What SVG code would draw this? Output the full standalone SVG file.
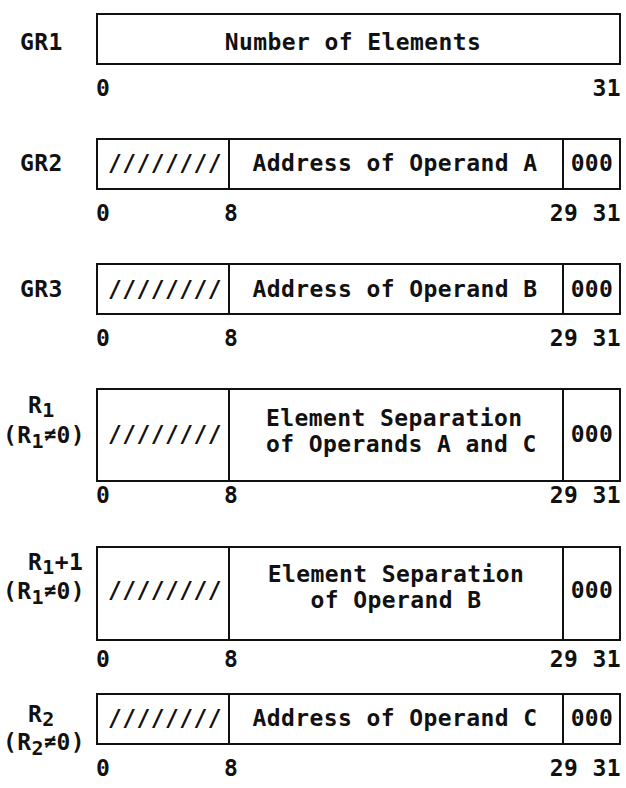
<svg xmlns="http://www.w3.org/2000/svg" width="626" height="788" viewBox="0 0 626 788">
<style>
.b{fill:none;stroke:#111;stroke-width:2}
.t{font-family:"DejaVu Sans Mono","Liberation Mono",monospace;font-size:23px;font-weight:bold;fill:#111;letter-spacing:0.4px}
.m{text-anchor:middle}
.e{text-anchor:end}
.s{font-size:20px}
</style>
<rect width="626" height="788" fill="#fff"/>
<g id="gr1">
<text class="t" x="20" y="50">GR1</text>
<rect class="b" x="97" y="14" width="523" height="50"/>
<text class="t m" x="353" y="50">Number of Elements</text>
<text class="t" x="96" y="96">0</text>
<text class="t e" x="621" y="96">31</text>
</g>
<g id="gr2">
<text class="t" x="20" y="171">GR2</text>
<rect class="b" x="97" y="139" width="523" height="50"/>
<line class="b" x1="229" y1="139" x2="229" y2="189"/>
<line class="b" x1="563" y1="139" x2="563" y2="189"/>
<text class="t m" x="165" y="171">////////</text>
<text class="t m" x="395" y="171">Address of Operand A</text>
<text class="t m" x="592" y="171">000</text>
<text class="t" x="96" y="221">0</text>
<text class="t" x="224" y="221">8</text>
<text class="t e" x="621" y="221">29 31</text>
</g>
<g id="gr3">
<text class="t" x="20" y="297">GR3</text>
<rect class="b" x="97" y="264" width="523" height="50"/>
<line class="b" x1="229" y1="264" x2="229" y2="314"/>
<line class="b" x1="563" y1="264" x2="563" y2="314"/>
<text class="t m" x="165" y="297">////////</text>
<text class="t m" x="395" y="297">Address of Operand B</text>
<text class="t m" x="592" y="297">000</text>
<text class="t" x="96" y="346">0</text>
<text class="t" x="224" y="346">8</text>
<text class="t e" x="621" y="346">29 31</text>
</g>
<g id="r1">
<text class="t" x="28" y="413">R<tspan class="s" dy="4">1</tspan></text>
<text class="t" x="3" y="443">(R<tspan class="s" dy="5">1</tspan><tspan class="s" dy="-7">≠</tspan><tspan dy="2">0)</tspan></text>
<rect class="b" x="97" y="389" width="523" height="92"/>
<line class="b" x1="229" y1="389" x2="229" y2="481"/>
<line class="b" x1="563" y1="389" x2="563" y2="481"/>
<text class="t m" x="165" y="442">////////</text>
<text class="t" x="266" y="426">Element Separation</text>
<text class="t" x="266" y="452">of Operands A and C</text>
<text class="t m" x="592" y="442">000</text>
<text class="t" x="96" y="503">0</text>
<text class="t" x="224" y="503">8</text>
<text class="t e" x="621" y="503">29 31</text>
</g>
<g id="r1p1">
<text class="t" x="28" y="570">R<tspan class="s" dy="4">1</tspan><tspan dy="-4">+1</tspan></text>
<text class="t" x="3" y="599">(R<tspan class="s" dy="5">1</tspan><tspan class="s" dy="-7">≠</tspan><tspan dy="2">0)</tspan></text>
<rect class="b" x="97" y="547" width="523" height="93"/>
<line class="b" x1="229" y1="547" x2="229" y2="640"/>
<line class="b" x1="563" y1="547" x2="563" y2="640"/>
<text class="t m" x="165" y="598">////////</text>
<text class="t m" x="396" y="582">Element Separation</text>
<text class="t m" x="396" y="608">of Operand B</text>
<text class="t m" x="592" y="598">000</text>
<text class="t" x="96" y="667">0</text>
<text class="t" x="224" y="667">8</text>
<text class="t e" x="621" y="667">29 31</text>
</g>
<g id="r2">
<text class="t" x="28" y="722">R<tspan class="s" dy="4">2</tspan></text>
<text class="t" x="3" y="750">(R<tspan class="s" dy="5">2</tspan><tspan class="s" dy="-7">≠</tspan><tspan dy="2">0)</tspan></text>
<rect class="b" x="97" y="694" width="523" height="50"/>
<line class="b" x1="229" y1="694" x2="229" y2="744"/>
<line class="b" x1="563" y1="694" x2="563" y2="744"/>
<text class="t m" x="165" y="726">////////</text>
<text class="t m" x="395" y="726">Address of Operand C</text>
<text class="t m" x="592" y="726">000</text>
<text class="t" x="96" y="776">0</text>
<text class="t" x="224" y="776">8</text>
<text class="t e" x="621" y="776">29 31</text>
</g>
</svg>
